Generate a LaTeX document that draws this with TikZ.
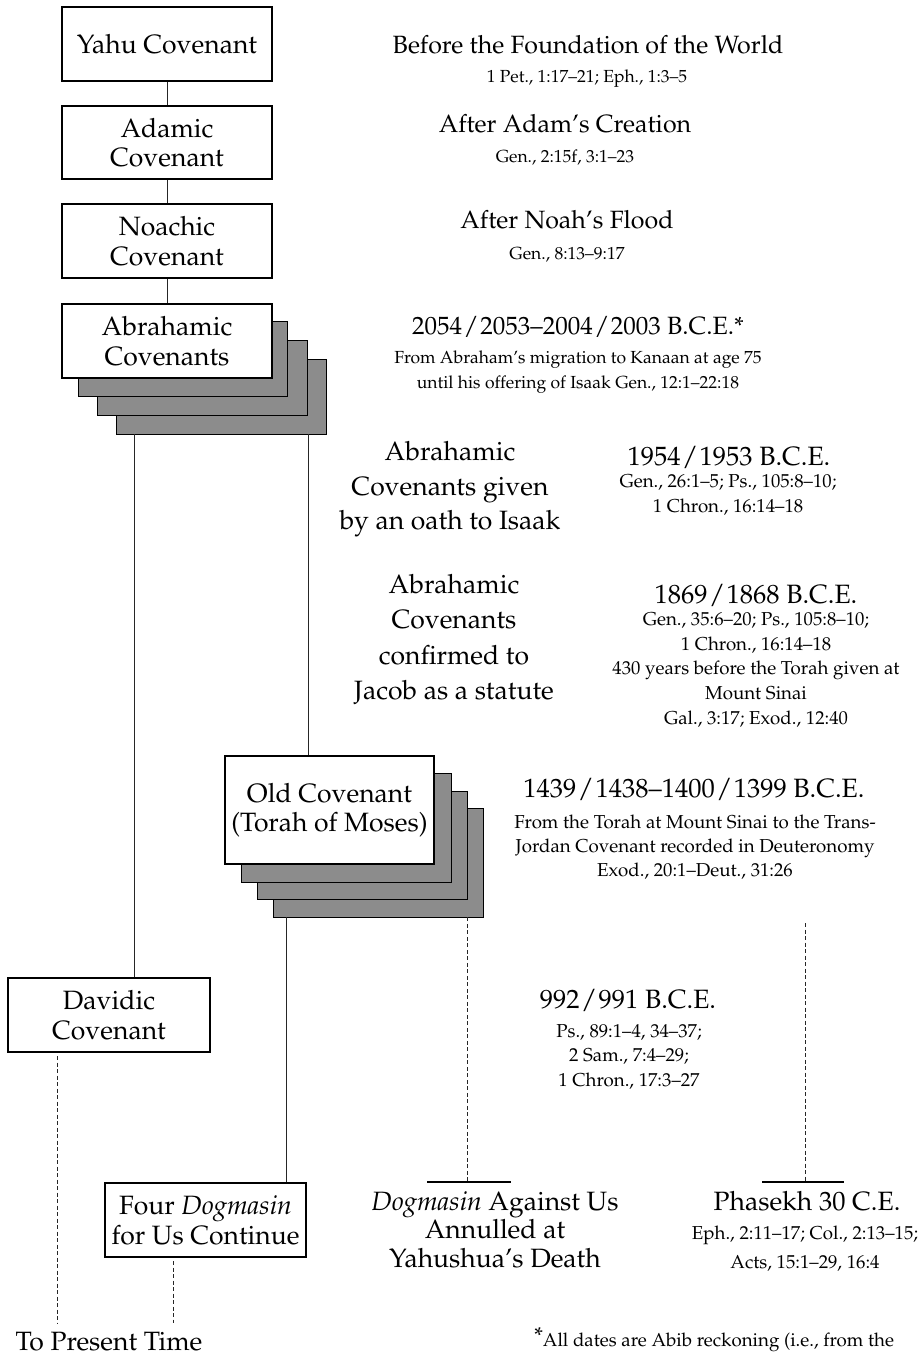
\documentclass[tikz,border=0pt]{standalone}
\usepackage[T1]{fontenc}
\usepackage{palatino}
\usetikzlibrary{calc}
\definecolor{shadowgray}{RGB}{140,140,140}
\newcommand\BigTxt{\fontsize{26.5}{29.5}\selectfont}
\newcommand\TopTxt{\fontsize{25}{28}\selectfont}
\newcommand\SmallTxt{\fontsize{18.7}{24.5}\selectfont}
\newcommand\TopSmallTxt{\fontsize{17.5}{24.5}\selectfont}
\newcommand\sls{\kern1.5pt/\kern1.5pt}
\tikzset{
  cbox/.style={draw, line width=2pt, fill=white, inner sep=0pt, align=center, font=\BigTxt},
  shadowbox/.style={draw, line width=0.9pt, fill=shadowgray, inner sep=0pt},
  conn/.style={line width=1pt, draw=black!85},
  dconn/.style={conn, dash pattern=on 4pt off 2.5pt},
  tbar/.style={line width=2.5pt, draw=black},
  bigt/.style={anchor=base, font=\BigTxt, inner sep=0pt},
  topt/.style={anchor=base, font=\TopTxt, inner sep=0pt},
  smallt/.style={anchor=base, font=\SmallTxt, inner sep=0pt},
  topsmallt/.style={anchor=base, font=\TopSmallTxt, inner sep=0pt}
}
\begin{document}
\begin{tikzpicture}[x=1pt,y=-1pt]
\useasboundingbox (0,0) rectangle (918,1356);
% left column boxes
\node[cbox, minimum width=210pt, minimum height=74pt] (yahu) at (167,44) {Yahu Covenant};
\node[cbox, minimum width=210pt, minimum height=73pt] (adam) at (167,142.5) {Adamic\\Covenant};
\node[cbox, minimum width=210pt, minimum height=74pt] (noah) at (167,241) {Noachic\\Covenant};
% Abrahamic stack
\node[shadowbox, minimum width=210pt, minimum height=75pt] (ab3) at (221,396.5) {};
\node[shadowbox, minimum width=210pt, minimum height=75pt] (ab2) at (202,377.5) {};
\node[shadowbox, minimum width=209pt, minimum height=75pt] (ab1) at (182.5,358.5) {};
\node[cbox, minimum width=210pt, minimum height=74pt] (abra) at (167,341) {Abrahamic\\Covenants};
% Old covenant stack
\node[shadowbox, minimum width=210pt, minimum height=109pt] (oc3) at (378,862.5) {};
\node[shadowbox, minimum width=210pt, minimum height=108pt] (oc2) at (362,845) {};
\node[shadowbox, minimum width=210pt, minimum height=109pt] (oc1) at (346,827.5) {};
\node[cbox, minimum width=209pt, minimum height=108pt] (oc) at (329.5,810) {Old Covenant\\(Torah of Moses)};
% lower boxes
\node[cbox, minimum width=202pt, minimum height=74pt] (dav) at (109,1015) {Davidic\\Covenant};
\node[cbox, minimum width=201pt, minimum height=74pt] (fd) at (205.5,1220) {Four \textit{Dogmasin}\\for Us Continue};
% connectors
\draw[conn] (yahu.south) -- (adam.north);
\draw[conn] (adam.south) -- (noah.north);
\draw[conn] (noah.south) -- (abra.north);
\draw[conn] ([xshift=19pt]ab3.south west) -- ([xshift=19pt]ab3.south west |- dav.north);
\draw[conn] ([xshift=-18pt]ab3.south east) -- ([xshift=-18pt]ab3.south east |- oc.north);
\draw[conn] ([xshift=14pt]oc3.south west) -- ([xshift=14pt]oc3.south west |- fd.north);
\coordinate (dbarL) at (427,1182);
\coordinate (dbarR) at (511,1182);
\draw[tbar] (dbarL) -- (dbarR);
\draw[dconn] ([xshift=-16pt]oc3.south east) -- ([xshift=-16pt]oc3.south east |- dbarL);
\coordinate (pbarL) at (762,1182);
\coordinate (pbarR) at (844,1182);
\coordinate (ptop) at (805,923);
\draw[tbar] (pbarL) -- (pbarR);
\draw[dconn] (ptop) -- (ptop |- pbarL);
\coordinate (tp1) at (57,1323);
\coordinate (tp2) at (173,1323);
\draw[dconn] ([yshift=-3pt]dav.south -| tp1) -- (tp1);
\draw[dconn] ([yshift=-3pt]fd.south -| tp2) -- (tp2);
% right texts
\node[topt] (r1a) at (588,54) {Before the Foundation of the World};
\node[topsmallt] (r1b) at (587,83) {1 Pet., 1:17--21; Eph., 1:3--5};
\node[topt] (r2a) at (565,133) {After Adam's Creation};
\node[topsmallt] (r2b) at (565,163) {Gen., 2:15f, 3:1--23};
\node[topt] (r3a) at (567,229) {After Noah's Flood};
\node[topsmallt] (r3b) at (567,259) {Gen., 8:13--9:17};
\node[topt] (r4a) at (578,334) {2054\sls2053--2004\sls2003 B.C.E.*};
\node[topsmallt] (r4b) at (578,363) {From Abraham's migration to Kanaan at age 75};
\node[topsmallt] (r4c) at (578,388) {until his offering of Isaak Gen., 12:1--22:18};
\node[bigt] (m5a) at (450,460) {Abrahamic};
\node[bigt] (m5b) at (450,495) {Covenants given};
\node[bigt] (m5c) at (450,529.5) {by an oath to Isaak};
\node[bigt] (r5a) at (729,465) {1954\sls1953 B.C.E.};
\node[smallt] (r5b) at (728,487.5) {Gen., 26:1--5; Ps., 105:8--10;};
\node[smallt] (r5c) at (728,512) {1 Chron., 16:14--18};
\node[bigt] (m6a) at (454,593) {Abrahamic};
\node[bigt] (m6b) at (454,628.5) {Covenants};
\node[bigt] (m6c) at (454,664) {confirmed to};
\node[bigt] (m6d) at (454,699.5) {Jacob as a statute};
\node[bigt] (r6a) at (756,603) {1869\sls1868 B.C.E.};
\node[smallt] (r6b) at (756,625) {Gen., 35:6--20; Ps., 105:8--10;};
\node[smallt] (r6c) at (756,650) {1 Chron., 16:14--18};
\node[smallt] (r6d) at (756,674) {430 years before the Torah given at};
\node[smallt] (r6e) at (756,699) {Mount Sinai};
\node[smallt] (r6f) at (756,724) {Gal., 3:17; Exod., 12:40};
\node[bigt] (r7a) at (694,797) {1439\sls1438--1400\sls1399 B.C.E.};
\node[smallt] (r7b) at (695,828) {From the Torah at Mount Sinai to the Trans-};
\node[smallt] (r7c) at (695,852) {Jordan Covenant recorded in Deuteronomy};
\node[smallt] (r7d) at (695,876) {Exod., 20:1--Deut., 31:26};
\node[bigt] (r8a) at (628,1008) {992\sls991 B.C.E.};
\node[smallt] (r8b) at (629,1037) {Ps., 89:1--4, 34--37;};
\node[smallt] (r8c) at (629,1061) {2 Sam., 7:4--29;};
\node[smallt] (r8d) at (629,1086) {1 Chron., 17:3--27};
\node[bigt] (d9a) at (495,1210) {\textit{Dogmasin} Against Us};
\node[bigt] (d9b) at (495,1238.5) {Annulled at};
\node[bigt] (d9c) at (495,1267.5) {Yahushua's Death};
\node[bigt] (p10a) at (807,1210) {Phasekh 30 C.E.};
\node[smallt] (p10b) at (805,1239) {Eph., 2:11--17; Col., 2:13--15;};
\node[smallt] (p10c) at (805,1268) {Acts, 15:1--29, 16:4};
\node[bigt] (tpt) at (109,1350) {To Present Time};
\node[smallt] (fn) at (714,1346) {\raisebox{3pt}{\fontsize{23}{23}\selectfont *}All dates are Abib reckoning (i.e., from the};
\end{tikzpicture}
\end{document}
